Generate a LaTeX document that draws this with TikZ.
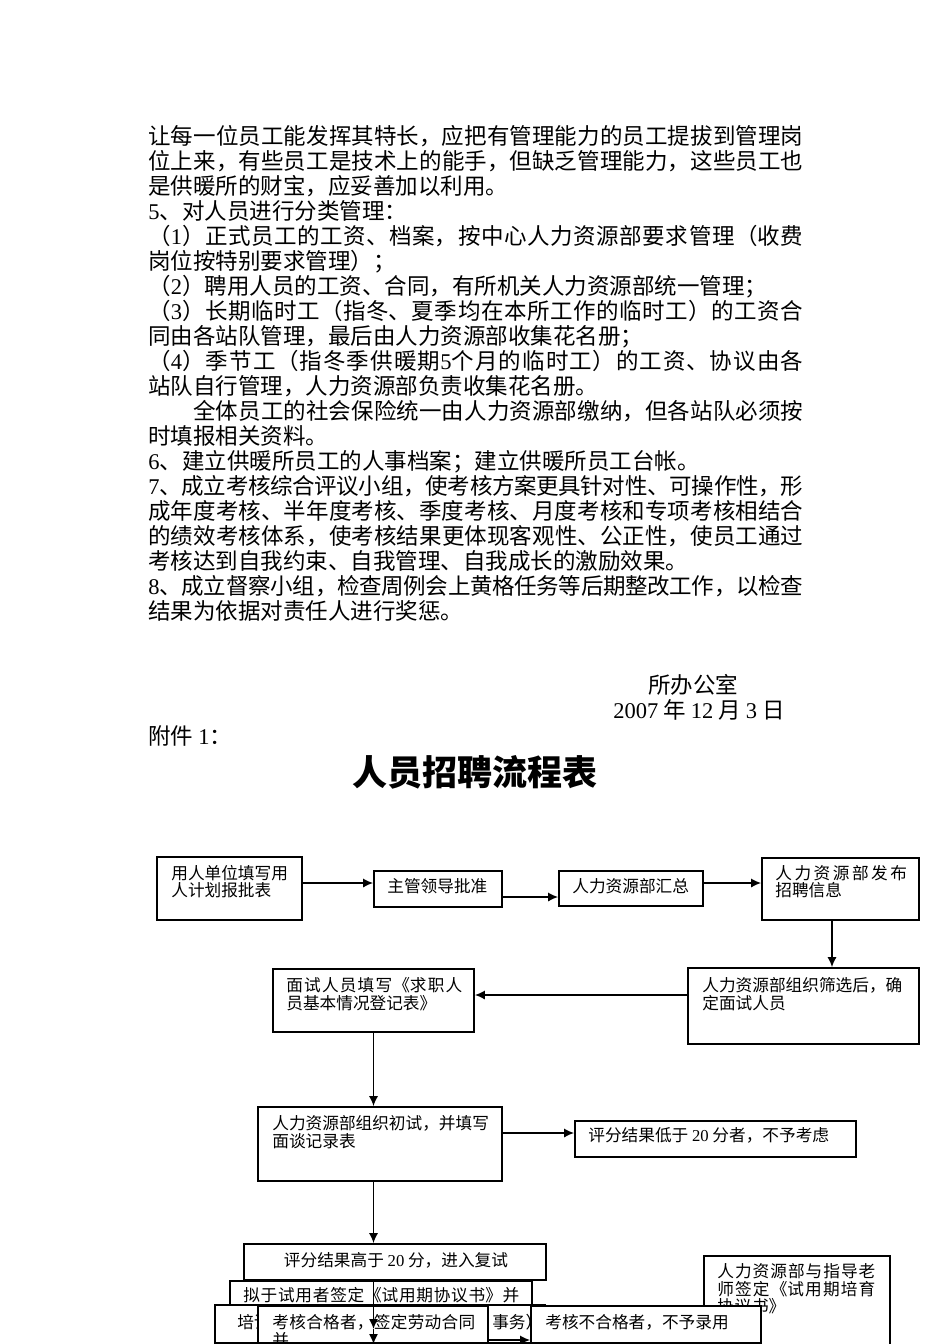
\documentclass[tikz,border=0pt]{standalone}
\usepackage{fontspec}
\setmainfont{Noto Sans CJK SC}
\newfontfamily\lat{Liberation Serif}
\usetikzlibrary{arrows.meta,fit}
\XeTeXlinebreaklocale "zh"
\XeTeXlinebreakskip=0pt plus 1pt minus 0.4pt
\newcommand\bodyf{\fontsize{13.5pt}{15pt}\selectfont}
\newcommand\flowf{\fontsize{10pt}{10.5pt}\selectfont}
\newcommand\titlef{\fontsize{21pt}{24pt}\selectfont\bfseries}
\newcommand\jl[2][393pt]{\parbox[b]{#1}{\parfillskip=0pt\tolerance=10000\hbadness=10000 #2}}
\begin{document}
\begin{tikzpicture}[x=0.6pt,y=-0.6pt,
  box/.style={draw,fill=white,line width=1.1pt,inner sep=0pt},
  bt/.style={font=\bodyf,anchor=base west,inner sep=0pt},
  ft/.style={font=\flowf,anchor=base west,inner sep=0pt},
  arr/.style={line width=0.9pt,-{Latex[length=6pt,width=5.5pt]}}]
\useasboundingbox[fill=white] (0,0) rectangle (950,1344);
% body text
\node[bt] (p1) at (148,144) {\jl{让每一位员工能发挥其特长，应把有管理能力的员工提拔到管理岗}};
\node[bt] (p2) at (148,169) {\jl{位上来，有些员工是技术上的能手，但缺乏管理能力，这些员工也}};
\node[bt] (p3) at (148,194) {是供暖所的财宝，应妥善加以利用。};
\node[bt] (p4) at (148,219) {{\lat 5}、对人员进行分类管理：};
\node[bt] (p5) at (148,244) {\jl{（{\lat 1}）正式员工的工资、档案，按中心人力资源部要求管理（收费}};
\node[bt] (p6) at (148,269) {岗位按特别要求管理）；};
\node[bt] (p7) at (148,294) {（{\lat 2}）聘用人员的工资、合同，有所机关人力资源部统一管理；};
\node[bt] (p8) at (148,319) {\jl{（{\lat 3}）长期临时工（指冬、夏季均在本所工作的临时工）的工资合}};
\node[bt] (p9) at (148,344) {同由各站队管理，最后由人力资源部收集花名册；};
\node[bt] (p10) at (148,369) {\jl{（{\lat 4}）季节工（指冬季供暖期{\lat 5}个月的临时工）的工资、协议由各}};
\node[bt] (p11) at (148,394) {站队自行管理，人力资源部负责收集花名册。};
\node[bt] (p12) at (193,419) {\jl[366pt]{全体员工的社会保险统一由人力资源部缴纳，但各站队必须按}};
\node[bt] (p13) at (148,444) {时填报相关资料。};
\node[bt] (p14) at (148,469) {{\lat 6}、建立供暖所员工的人事档案；建立供暖所员工台帐。};
\node[bt] (p15) at (148,494) {\jl{{\lat 7}、成立考核综合评议小组，使考核方案更具针对性、可操作性，形}};
\node[bt] (p16) at (148,519) {\jl{成年度考核、半年度考核、季度考核、月度考核和专项考核相结合}};
\node[bt] (p17) at (148,544) {\jl{的绩效考核体系，使考核结果更体现客观性、公正性，使员工通过}};
\node[bt] (p18) at (148,569) {考核达到自我约束、自我管理、自我成长的激励效果。};
\node[bt] (p19) at (148,594) {\jl{{\lat 8}、成立督察小组，检查周例会上黄格任务等后期整改工作，以检查}};
\node[bt] (p20) at (148,619) {结果为依据对责任人进行奖惩。};
\node[bt] (sig1) at (648,693) {所办公室};
\node[bt] (sig2) at (613,718) {{\lat 2007} 年 {\lat 12} 月 {\lat 3} 日};
\node[bt] (att) at (148,744) {附件 {\lat 1}：};
\node[font=\titlef,inner sep=0pt] (title) at (475,772) {人员招聘流程表};
% flow chart
\node[box,fit={(157,857) (302,920)}] (A) {};
\node[ft] (a1) at (171,879) {用人单位填写用};
\node[ft] (a2) at (171,896) {人计划报批表};
\node[box,fit={(374,871) (502,907)}] (B) {};
\node[ft] (b1) at (387,892) {主管领导批准};
\node[box,fit={(559,871) (703,906)}] (C) {};
\node[ft] (c1) at (572,892) {人力资源部汇总};
\node[box,fit={(762,858) (919,920)}] (D) {};
\node[ft] (d1) at (775,879) {\jl[79pt]{人力资源部发布}};
\node[ft] (d2) at (775,896) {招聘信息};
\node[box,fit={(688,968) (919,1044)}] (E) {};
\node[ft] (e1) at (702,991) {人力资源部组织筛选后，确};
\node[ft] (e2) at (702,1009) {定面试人员};
\node[box,fit={(273,969) (474,1032)}] (F) {};
\node[ft] (f1) at (286,991) {\jl[105.6pt]{面试人员填写《求职人}};
\node[ft] (f2) at (286,1009) {员基本情况登记表》};
\node[box,fit={(258,1107) (502,1181)}] (G) {};
\node[ft] (g1) at (272,1129) {人力资源部组织初试，并填写};
\node[ft] (g2) at (272,1147) {面谈记录表};
\node[box,fit={(575,1121) (856,1157)}] (H) {};
\node[ft] (h1) at (588,1141) {评分结果低于 {\lat 20} 分者，不予考虑};
\node[box,fit={(244,1244) (546,1280)}] (I) {};
\node[ft,anchor=base] (i1) at (396,1266) {评分结果高于 {\lat 20} 分，进入复试};
\node[box,fit={(230,1281) (532,1307)}] (J) {};
\node[ft] (j1) at (243,1301) {\jl[165.6pt]{拟于试用者签定《试用期协议书》并}};
\node[box,fit={(215,1305) (545,1343)}] (K) {};
\node[ft] (k1) at (237,1328) {培训\hspace{133pt}事务）};
\node[box,fit={(258,1306) (488,1343)}] (L) {};
\node[ft] (l1) at (272,1328) {\jl[121.8pt]{考核合格者，签定劳动合同}};
\node[ft] (l2) at (272,1346) {并};
\node[box,fit={(704,1256) (890,1350)}] (N) {};
\node[ft] (n1) at (717,1277) {\jl[94.8pt]{人力资源部与指导老}};
\node[ft] (n2) at (717,1295) {\jl[94.8pt]{师签定《试用期培育}};
\node[ft] (n3) at (717,1312) {\jl[40.8pt]{协议书》}};
\node[box,fit={(531,1306) (761,1343)}] (M) {};
\node[ft] (m1) at (545,1328) {考核不合格者，不予录用};
% connectors
\coordinate (ab) at (0,883);
\coordinate (bc) at (0,897);
\coordinate (de) at (832,0);
\coordinate (ef) at (0,995);
\coordinate (gh) at (0,1133);
\coordinate (t1) at (373.5,1329);
\coordinate (t2) at (373.5,1344);
\coordinate (lm) at (0,1340);
\draw[arr] (A.east |- ab) -- (B.west |- ab);
\draw[arr] (B.east |- bc) -- (C.west |- bc);
\draw[arr] (C.east |- ab) -- (D.west |- ab);
\draw[arr] (D.south -| de) -- (E.north -| de);
\draw[arr] (E.west |- ef) -- (F.east |- ef);
\draw[arr] (F.south) -- (F.south |- G.north);
\draw[arr] (G.east |- gh) -- (H.west |- gh);
\draw[arr] (F.south |- G.south) -- (F.south |- I.north);
\draw[arr] (F.south |- I.south) -- (t1);
\draw[arr] (t1) -- (t2);
\draw[arr] (L.east |- lm) -- (M.west |- lm);
\end{tikzpicture}
\end{document}
